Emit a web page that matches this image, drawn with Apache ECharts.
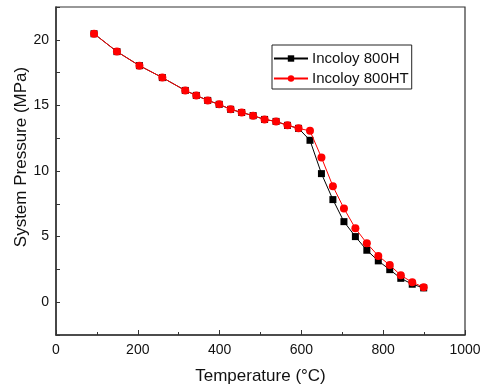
<!DOCTYPE html>
<html>
<head>
<meta charset="utf-8">
<script src="https://cdn.jsdelivr.net/npm/echarts@6/dist/echarts.min.js"></script>
<style>
  html, body { margin: 0; padding: 0; background: #fff; }
  #chart { width: 483px; height: 389px; }
</style>
</head>
<body>
<div id="chart"></div>
<script>
// Temperatures (°C) for both alloys
const temperature = [93, 149, 204, 260, 316, 343, 371, 399, 427, 454, 482, 510, 538, 566,
                     593, 621, 649, 677, 704, 732, 760, 788, 816, 843, 871, 899];

// System pressure (MPa), Incoloy 800H
const pressure800H = [20.46, 19.10, 18.03, 17.12, 16.14, 15.76, 15.38, 15.08, 14.70, 14.46,
                      14.22, 13.93, 13.78, 13.48, 13.25, 12.34, 9.80, 7.82, 6.14, 5.00,
                      3.96, 3.15, 2.48, 1.82, 1.37, 1.09];

// System pressure (MPa), Incoloy 800HT
const pressure800HT = [20.46, 19.10, 18.03, 17.12, 16.14, 15.76, 15.38, 15.08, 14.70, 14.46,
                       14.22, 13.93, 13.78, 13.48, 13.25, 13.06, 11.03, 8.84, 7.15, 5.63,
                       4.49, 3.53, 2.83, 2.05, 1.52, 1.14];

const seriesNames = ['Incoloy 800H', 'Incoloy 800HT'];
const xTicks = { min: 0, max: 1000, step: 200 };
const yTicks = { min: -2.5, max: 22.5, step: 2.5, labelStep: 5 };

const pairs = (xs, ys) => xs.map((x, i) => [x, ys[i]]);

const FONT = 'Liberation Sans, Arial, sans-serif';
const AXIS = '#333';

const chart = echarts.init(document.getElementById('chart'), null, { renderer: 'canvas' });
chart.setOption({
  animation: false,
  backgroundColor: '#fff',
  grid: {
    left: 56, right: 18, top: 7, bottom: 54,
    outerBoundsMode: 'none', containLabel: false,
    show: true, borderColor: AXIS, borderWidth: 1.2, backgroundColor: 'transparent'
  },
  legend: {
    orient: 'vertical',
    left: 272, top: 45,
    itemWidth: 34, itemHeight: 8, itemGap: 5,
    padding: [6, 3, 3, 1],
    borderColor: '#222', borderWidth: 1,
    textStyle: { fontFamily: FONT, fontSize: 15, color: '#111', padding: [0, 0, 0, -1] },
    data: seriesNames
  },
  xAxis: {
    type: 'value',
    min: xTicks.min, max: xTicks.max, interval: xTicks.step,
    name: 'Temperature (°C)',
    nameLocation: 'middle', nameGap: 33, nameMoveOverlap: false,
    nameTextStyle: { fontFamily: FONT, fontSize: 17, color: '#111' },
    axisLine: { show: true, onZero: false, lineStyle: { color: AXIS, width: 1.5 } },
    axisTick: { inside: true, length: 5, lineStyle: { color: AXIS, width: 1 } },
    minorTick: { show: true, splitNumber: 2, length: 3, lineStyle: { color: AXIS, width: 1 } },
    axisLabel: { fontFamily: FONT, fontSize: 14, color: '#111', margin: 8, formatter: v => String(v) },
    splitLine: { show: false }
  },
  yAxis: {
    type: 'value',
    min: yTicks.min, max: yTicks.max, interval: yTicks.step,
    name: 'System Pressure (MPa)',
    nameLocation: 'middle', nameGap: 26, nameMoveOverlap: false,
    nameTextStyle: { fontFamily: FONT, fontSize: 17, color: '#111', padding: [0, 0, 0, 28] },
    axisLine: { show: true, onZero: false, lineStyle: { color: AXIS, width: 1.5 } },
    axisTick: { inside: true, length: 4, lineStyle: { color: AXIS, width: 1 } },
    axisLabel: {
      fontFamily: FONT, fontSize: 14, color: '#111', margin: 7,
      formatter: v => (Math.abs(v % yTicks.labelStep) < 1e-9 ? String(v) : '')
    },
    splitLine: { show: false }
  },
  series: [
    {
      name: seriesNames[0],
      type: 'line',
      data: pairs(temperature, pressure800H),
      symbol: 'rect', symbolSize: 7,
      itemStyle: { color: '#000' },
      lineStyle: { color: '#000', width: 1 },
      z: 2
    },
    {
      name: seriesNames[1],
      type: 'line',
      data: pairs(temperature, pressure800HT),
      symbol: 'circle', symbolSize: 8,
      itemStyle: { color: '#ff0000' },
      lineStyle: { color: '#ff0000', width: 1 },
      z: 3
    }
  ]
});
</script>
</body>
</html>
